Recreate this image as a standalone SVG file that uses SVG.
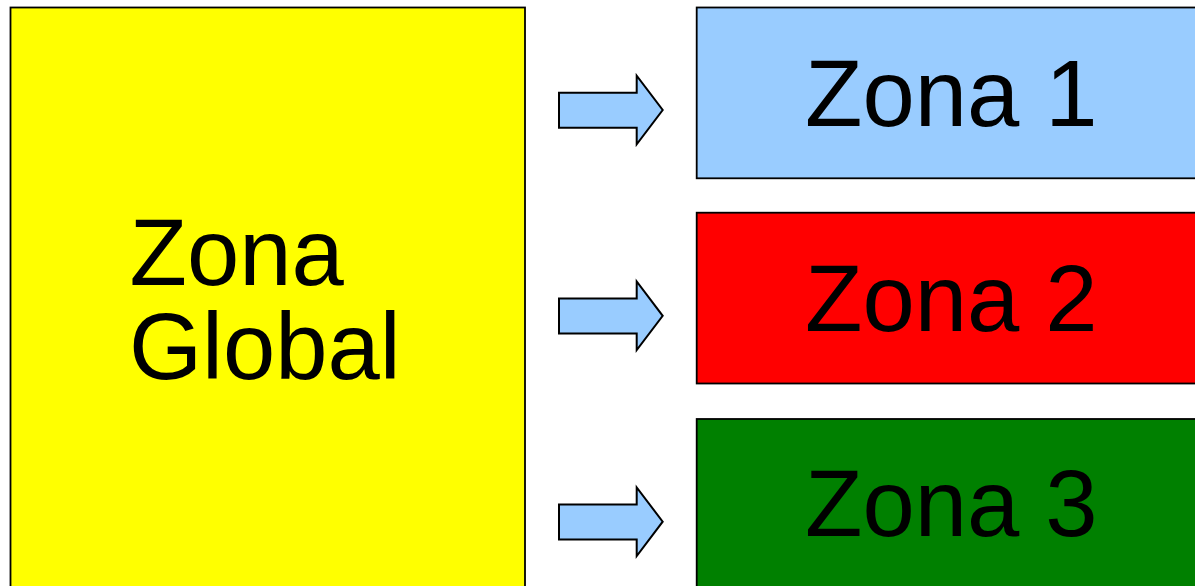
<svg xmlns="http://www.w3.org/2000/svg" width="1195" height="586" viewBox="0 0 1195 586">
  <defs>
    <style>
      .box { stroke: #000; stroke-width: 1.8; }
      .arrow { fill: #99ccff; stroke: #000; stroke-width: 2; stroke-linejoin: miter; }
      .label { font-family: "Liberation Sans", Arial, sans-serif; font-size: 94px; fill: #000; }
    </style>
    <polygon id="arrowShape" class="arrow" points="559,92.7 636.7,92.7 636.7,75.7 662.7,110 636.7,144.3 636.7,127.7 559,127.7"/>
  </defs>

  <rect width="1195" height="586" fill="#fff"/>

  <g id="zona-global">
    <rect class="box" x="10.5" y="7.5" width="514.5" height="600" fill="#ffff00"/>
    <text class="label" x="129.5" y="285">Zona</text>
    <text class="label" x="129" y="379">Global</text>
  </g>

  <g id="zona-1">
    <rect class="box" x="696.7" y="7.5" width="520" height="170.8" fill="#99ccff"/>
    <text class="label" x="805" y="126">Zona 1</text>
  </g>

  <g id="zona-2">
    <rect class="box" x="696.7" y="212.7" width="520" height="170.8" fill="#ff0000"/>
    <text class="label" x="805" y="331">Zona 2</text>
  </g>

  <g id="zona-3">
    <rect class="box" x="696.7" y="419" width="520" height="200" fill="#008000"/>
    <text class="label" x="805" y="536">Zona 3</text>
  </g>

  <g id="connectors">
    <use href="#arrowShape"/>
    <use href="#arrowShape" transform="translate(0,205.8)"/>
    <use href="#arrowShape" transform="translate(0,411.7)"/>
  </g>
</svg>
